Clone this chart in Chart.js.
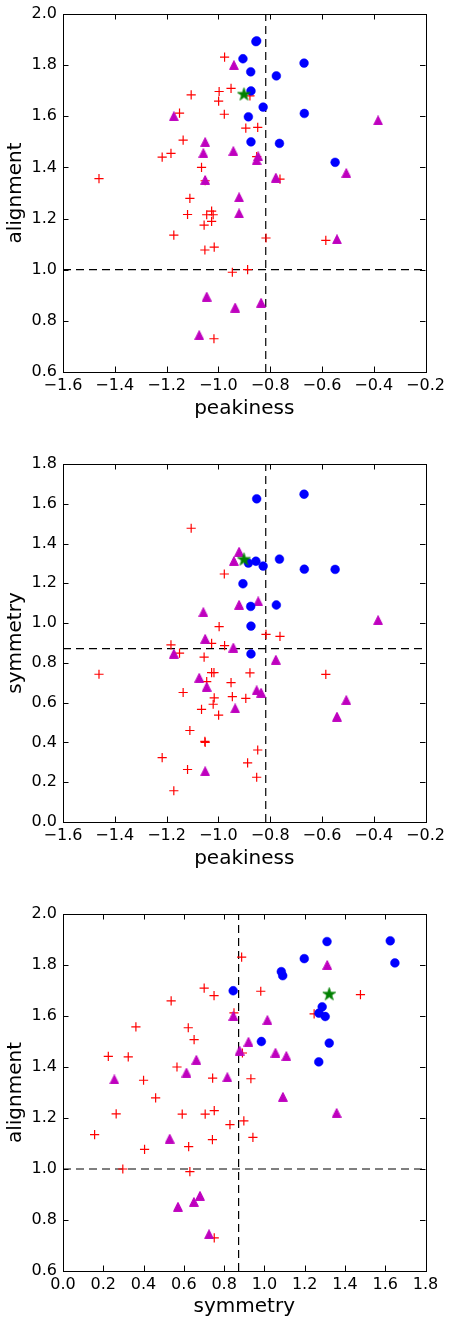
<!DOCTYPE html>
<html><head><meta charset="utf-8">
<script src="https://cdn.jsdelivr.net/npm/chart.js@4.4.0/dist/chart.umd.min.js"></script>
<style>
html,body{margin:0;padding:0;background:#fff;}
#wrap{position:relative;width:451px;height:1323px;}
.c{position:absolute;left:0;width:451px;}
</style></head><body>
<div id="wrap">
<div class="c" style="top:0;height:450px"><canvas id="c1" width="451" height="450"></canvas></div>
<div class="c" style="top:450px;height:450px"><canvas id="c2" width="451" height="450"></canvas></div>
<div class="c" style="top:900px;height:423px"><canvas id="c3" width="451" height="423"></canvas></div>
</div>
<script>
// ---- data (red plus group) ----
const plusPeak  = [-0.976,-1.105,-0.997,-0.951,-0.999,-1.150,-0.977,-0.894,-1.136,-1.183,-1.217,-1.065,-1.461,-0.878,-0.848,-0.852,-0.762,-1.110,-1.119,-1.045,-1.026,-1.020,-1.055,-1.026,-1.172,-1.052,-1.016,-0.946,-0.887,-1.017,-0.816,-0.585,-1.051];
const plusAlign = [1.831,1.684,1.697,1.709,1.659,1.612,1.608,1.554,1.507,1.455,1.440,1.400,1.356,1.680,1.557,1.442,1.354,1.279,1.216,1.215,1.229,1.215,1.174,1.189,1.135,1.077,1.088,0.990,1.000,0.730,1.124,1.115,1.348];
const plusSym   = [0.887,1.477,0.982,0.701,0.537,0.849,1.247,0.622,0.651,0.891,0.324,0.566,0.743,0.750,0.362,0.225,0.933,0.460,0.264,0.706,0.751,0.592,0.829,0.898,0.157,0.405,0.624,0.630,0.297,0.751,0.943,0.742,0.400];
// ---- magenta triangle group ----
const triPeak  = [-0.940,-1.172,-1.051,-1.058,-0.942,-0.846,-0.852,-1.051,-0.778,-0.506,-0.920,-0.383,-0.920,-1.045,-0.935,-1.074,-0.542,-0.835];
const triAlign = [1.800,1.600,1.499,1.456,1.464,1.443,1.428,1.351,1.360,1.378,1.283,1.584,1.220,0.895,0.852,0.744,1.119,0.871];
const triSym   = [1.312,0.846,0.921,1.055,0.877,1.109,0.662,0.255,0.816,0.613,1.092,1.015,1.359,0.680,0.571,0.725,0.530,0.650];
// ---- blue circle group ----
const circPeak  = [-0.852,-0.855,-0.905,-0.669,-0.875,-0.776,-0.874,-0.827,-0.884,-0.668,-0.874,-0.764,-0.549];
const circAlign = [1.895,1.892,1.825,1.808,1.774,1.758,1.699,1.636,1.598,1.611,1.500,1.494,1.420];
const circSym   = [1.625,1.311,1.198,1.648,1.084,1.091,0.845,1.287,1.302,1.271,0.985,1.322,1.270];
// ---- green star ----
const starPeak  = [-0.901];
const starAlign = [1.687];
const starSym   = [1.322];
// ---- ticks & reference lines ----
const peakTicks  = [-1.6,-1.4,-1.2,-1.0,-0.8,-0.6,-0.4,-0.2];
const alignTicks = [0.6,0.8,1.0,1.2,1.4,1.6,1.8,2.0];
const symTicks   = [0.0,0.2,0.4,0.6,0.8,1.0,1.2,1.4,1.6,1.8];
const peakCut  = [-0.817];
const alignCut = [1.0];
const symCut   = [0.872];

const FONT = 'DejaVu Sans';
function mk(w,h,draw){const c=document.createElement('canvas');c.width=w;c.height=h;draw(c.getContext('2d'));return c;}
const triImg = mk(10,10,g=>{g.fillStyle='#bf00bf';g.strokeStyle='#bf00bf';g.lineWidth=1;g.beginPath();g.moveTo(5,0.6);g.lineTo(0.6,9.4);g.lineTo(9.4,9.4);g.closePath();g.fill();g.stroke();});
const starImg = mk(15,15,g=>{g.fillStyle='#008000';g.strokeStyle='#008000';g.lineWidth=0.8;g.beginPath();
  const cx=7.5,cy=8.0,R=6.8,r=R*0.382;
  for(let i=0;i<10;i++){const a=-Math.PI/2+i*Math.PI/5;const rr=i%2?r:R;const px=cx+rr*Math.cos(a),py=cy+rr*Math.sin(a);i?g.lineTo(px,py):g.moveTo(px,py);}
  g.closePath();g.fill();g.stroke();});

const zip=(a,b)=>a.map((v,i)=>({x:v,y:b[i]}));
const fmt=v=>(Math.round(v*10)/10).toFixed(1).replace('-','\u2212');

const framePlugin={id:'frame',afterDraw(chart){
  const {ctx,chartArea:a,scales:{x,y}}=chart;
  ctx.save();ctx.strokeStyle='#000';ctx.lineWidth=1;ctx.beginPath();
  x.ticks.forEach(t=>{const p=Math.round(x.getPixelForValue(t.value))+0.5;ctx.moveTo(p,a.bottom);ctx.lineTo(p,a.bottom-5.5);ctx.moveTo(p,a.top);ctx.lineTo(p,a.top+5.5);});
  y.ticks.forEach(t=>{const p=Math.round(y.getPixelForValue(t.value))+0.5;ctx.moveTo(a.left,p);ctx.lineTo(a.left+5.5,p);ctx.moveTo(a.right,p);ctx.lineTo(a.right-5.5,p);});
  ctx.stroke();
  ctx.strokeRect(Math.round(a.left)+0.5,Math.round(a.top)+0.5,Math.round(a.width),Math.round(a.height));
  ctx.restore();}};

function axis(title,ticks,pos,size){
  return {type:'linear',position:pos,min:ticks[0],max:ticks[ticks.length-1],
    afterBuildTicks:s=>{s.ticks=ticks.map(v=>({value:v}));},
    afterFit:s=>{ if(pos==='bottom'){s.height=size;s.paddingLeft=0;s.paddingRight=0;} else {s.width=size;s.paddingTop=0;s.paddingBottom=0;} },
    grid:{display:false,drawTicks:false},border:{display:false},
    ticks:{autoSkip:false,maxRotation:0,minRotation:0,padding:pos==='bottom'?4:6,color:'#000',font:{family:FONT,size:16},callback:v=>fmt(v)},
    title:{display:true,text:title,color:'#000',font:{family:FONT,size:20},padding:pos==='bottom'?{top:0,bottom:0}:{top:4,bottom:0}}};
}

function make(id,xs,ys,xTicks,yTicks,xName,yName,xCut,yCut,bottomPad,xH){
  const ds=[
    {label:'star',data:zip(xs.star,ys.star),pointStyle:starImg,pointRadius:7,order:0},
    {label:'circ',data:zip(xs.circ,ys.circ),pointStyle:'circle',pointRadius:4.4,backgroundColor:'#0000ff',borderColor:'#0000ff',borderWidth:0.5,order:1},
    {label:'tri',data:zip(xs.tri,ys.tri),pointStyle:triImg,pointRadius:5,order:2},
    {label:'plus',data:zip(xs.plus,ys.plus),pointStyle:'cross',pointRadius:4.6,borderColor:'#ff0000',borderWidth:1.2,order:3},
    {label:'vcut',data:[{x:xCut[0],y:yTicks[0]},{x:xCut[0],y:yTicks[yTicks.length-1]}],showLine:true,borderColor:'#000',borderWidth:1.2,borderDash:[8,5],pointRadius:0,order:9},
    {label:'hcut',data:[{x:xTicks[0],y:yCut[0]},{x:xTicks[xTicks.length-1],y:yCut[0]}],showLine:true,borderColor:'#000',borderWidth:1.2,borderDash:[8,5],pointRadius:0,order:9}
  ];
  new Chart(document.getElementById(id),{type:'scatter',data:{datasets:ds},
    options:{responsive:false,animation:false,devicePixelRatio:1,
      layout:{padding:{top:14,right:25.5,bottom:bottomPad,left:0}},
      plugins:{legend:{display:false},tooltip:{enabled:false}},
      events:[],
      scales:{x:axis(xName,xTicks,'bottom',xH),y:axis(yName,yTicks,'left',63)}},
    plugins:[framePlugin]});
}
const P={plus:plusPeak,tri:triPeak,circ:circPeak,star:starPeak};
const A={plus:plusAlign,tri:triAlign,circ:circAlign,star:starAlign};
const S={plus:plusSym,tri:triSym,circ:circSym,star:starSym};
make('c1',P,A,peakTicks,alignTicks,'peakiness','alignment',peakCut,alignCut,29,49);
make('c2',P,S,peakTicks,symTicks,'peakiness','symmetry',peakCut,symCut,29,49);
make('c3',S,A,symTicks,alignTicks,'symmetry','alignment',symCut,alignCut,4,48);
</script>
</body></html>
